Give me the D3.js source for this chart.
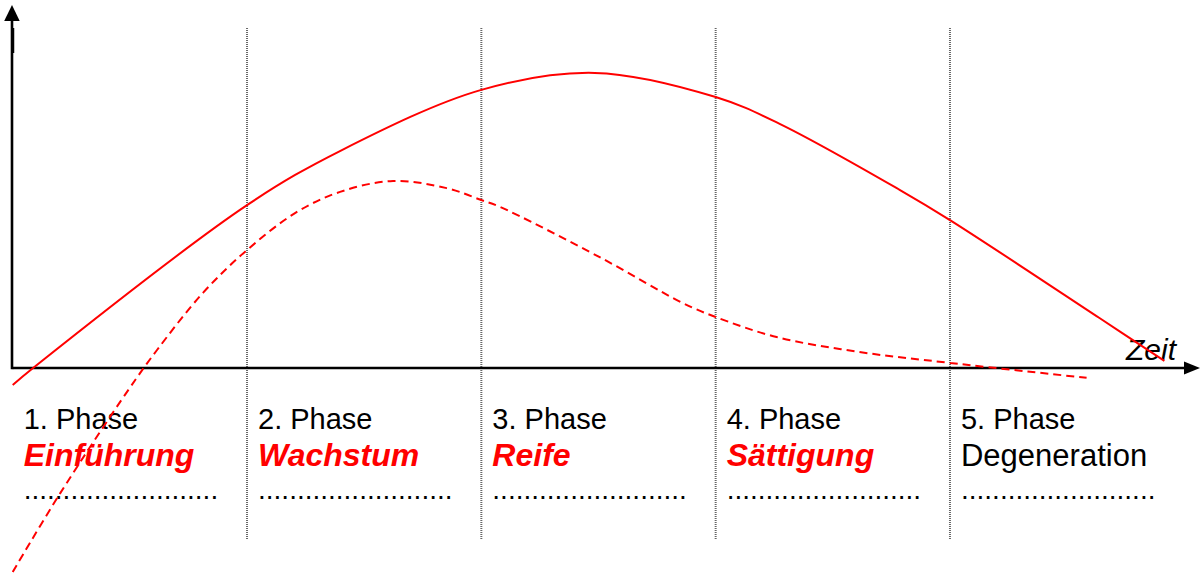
<!DOCTYPE html>
<html>
<head>
<meta charset="utf-8">
<script src="https://cdn.jsdelivr.net/npm/d3@7/dist/d3.min.js"></script>
<style>
  body { margin: 0; background: #fff; }
  text { font-family: "Liberation Sans", Arial, sans-serif; }
</style>
</head>
<body>
<svg id="chart" width="1204" height="573"></svg>
<script>
// Phases of the product life cycle.
const phaseNumbers = ["1. Phase", "2. Phase", "3. Phase", "4. Phase", "5. Phase"];
const phaseNames = ["Einführung", "Wachstum", "Reife", "Sättigung", "Degeneration"];
const phaseHighlight = [true, true, true, true, false];
const phaseBounds = [1, 2, 3, 4];

// Solid curve (Umsatz).
const umsatzT = [0, 0.087, 1, 1.405, 2, 2.484, 3, 3.273, 3.785, 4, 4.638, 4.915];
const umsatzV = [-5, 0, 47.9, 64.1, 81.8, 86.8, 79.7, 71.8, 52.4, 43.5, 14.7, 2.1];

// Dashed curve (Gewinn).
const gewinnT = [0, 0.203, 0.493, 0.616, 0.812, 1, 1.213, 1.397, 1.623, 1.852, 2, 2.079, 2.505, 2.86, 3, 3.26, 3.614, 4, 4.583];
const gewinnV = [-60, -36.8, -6.5, 5.3, 22.1, 34.7, 45.9, 51.8, 55, 52.9, 49.4, 47.4, 32.6, 19.1, 15, 9.1, 4.7, 1.5, -2.9];

const dotsLabel = ".........................";

const svg = d3.select("#chart");

// Scales: time in phases, value in percent of the axis height.
const x = d3.scaleLinear().domain([0, 5]).range([12.7, 1184.3]);
const y = d3.scaleLinear().domain([0, 100]).range([368, 28]);

// Vertical dotted phase separators.
svg.selectAll(".sep")
    .data(phaseBounds)
    .enter()
    .append("line")
    .attr("class", "sep")
    .attr("x1", d => x(d))
    .attr("x2", d => x(d))
    .attr("y1", y(100))
    .attr("y2", 540)
    .attr("stroke", "#666")
    .attr("stroke-width", 2)
    .attr("stroke-dasharray", "1,1");

// Axes with arrow heads.
const x0 = x(0), y0 = y(0);
svg.append("line")
    .attr("x1", x0).attr("x2", 1186)
    .attr("y1", y0).attr("y2", y0)
    .attr("stroke", "#000").attr("stroke-width", 2.6);
svg.append("path")
    .attr("d", "M1184," + (y0 - 6.5) + "L1200," + y0 + "L1184," + (y0 + 6.5) + "Z")
    .attr("fill", "#000");

svg.append("line")
    .attr("x1", x0 - 0.7).attr("x2", x0 - 0.7)
    .attr("y1", y0 + 1.3).attr("y2", 19)
    .attr("stroke", "#000").attr("stroke-width", 2.6);
svg.append("line")
    .attr("x1", x0 + 0.8).attr("x2", x0 + 0.8)
    .attr("y1", 28).attr("y2", 53)
    .attr("stroke", "#000").attr("stroke-width", 1.5);
svg.append("path")
    .attr("d", "M" + (x0 - 8.5) + ",21L" + (x0 - 0.7) + ",5L" + (x0 + 7) + ",21Z")
    .attr("fill", "#000");

// Axis label.
svg.append("text")
    .attr("x", 1126)
    .attr("y", 360)
    .attr("font-size", 30)
    .attr("font-style", "italic")
    .attr("fill", "#000")
    .text("Zeit");

// Phase labels under the axis.
const labels = svg.selectAll(".phase")
    .data(phaseNumbers)
    .enter()
    .append("g")
    .attr("class", "phase")
    .attr("transform", (d, i) => "translate(" + (x(i) + 11) + ",0)");

labels.append("text")
    .attr("y", 429)
    .attr("font-size", 29)
    .attr("fill", "#000")
    .text(d => d);

labels.append("text")
    .attr("y", 466)
    .attr("font-size", (d, i) => phaseHighlight[i] ? 32 : 31)
    .attr("font-weight", (d, i) => phaseHighlight[i] ? "bold" : "normal")
    .attr("font-style", (d, i) => phaseHighlight[i] ? "italic" : "normal")
    .attr("fill", (d, i) => phaseHighlight[i] ? "#ff0000" : "#000")
    .text((d, i) => phaseNames[i]);

labels.append("text")
    .attr("y", 499)
    .attr("font-size", 28)
    .attr("fill", "#000")
    .text(dotsLabel);

// Curves.
const line = d3.line()
    .x(d => x(d[0]))
    .y(d => y(d[1]))
    .curve(d3.curveCatmullRom.alpha(0.5));

svg.append("path")
    .datum(umsatzT.map((t, i) => [t, umsatzV[i]]))
    .attr("d", line)
    .attr("fill", "none")
    .attr("stroke", "#ff0000")
    .attr("stroke-width", 2);

svg.append("path")
    .datum(gewinnT.map((t, i) => [t, gewinnV[i]]))
    .attr("d", line)
    .attr("fill", "none")
    .attr("stroke", "#ff0000")
    .attr("stroke-width", 2)
    .attr("stroke-dasharray", "8,5");
</script>
</body>
</html>
